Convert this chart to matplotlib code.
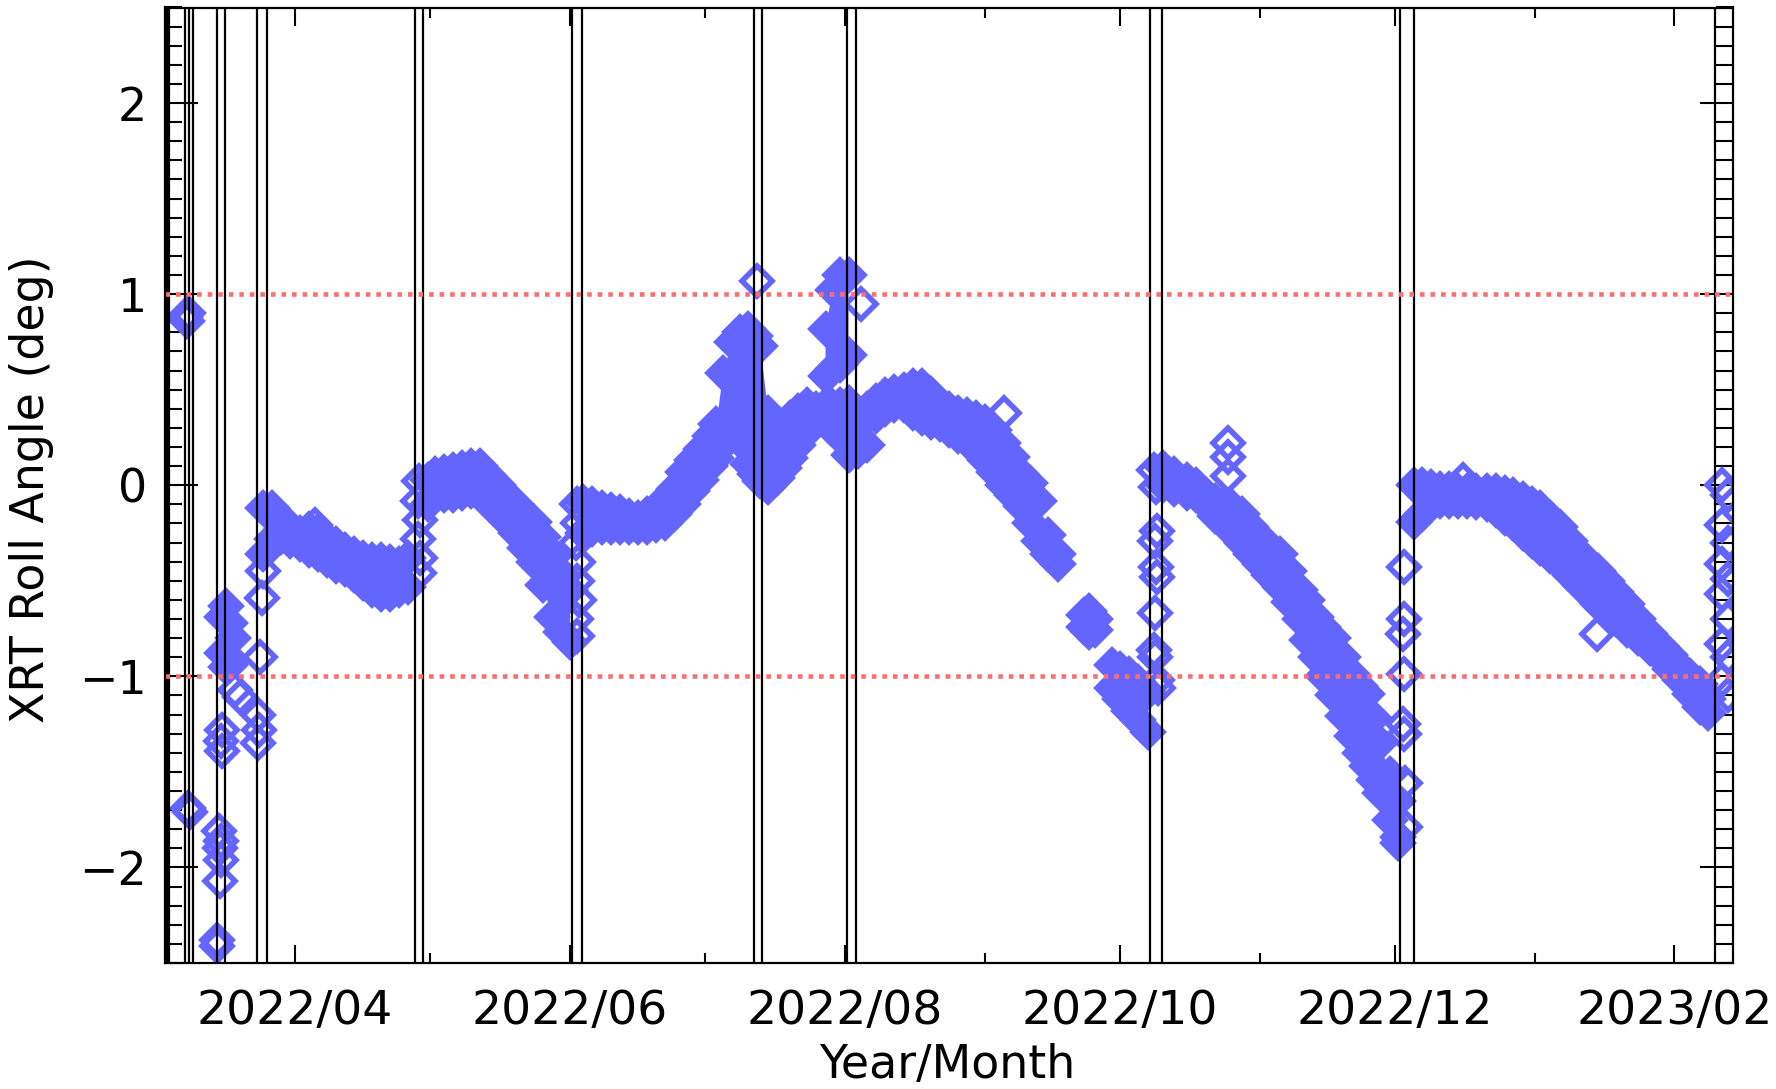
import datetime as dt
import numpy as np
import matplotlib
matplotlib.use("Agg")
import matplotlib.pyplot as plt
import matplotlib.dates as mdates
from matplotlib.ticker import MultipleLocator

NAN = np.nan
BASE = dt.datetime(2022, 3, 1)          # day 0

# ---- dense band of roll-angle points: upper / lower envelope of marker centres (deg)
band_day = [14.8, 15.8, 16.6, 17.3, NAN,
            24, 26, 28, 30, 32, 34, 36, 38, 40, 42, 44, 46, 48, 50, 52, 54, 56, NAN,
            60.5, 62, 64, 66, 68, 70, 72, 74, 76, 78, 80, 82, 84, 86, 88, 90, 92, NAN,
            95, 97, 99, 101, 103, 105, 107, 109, 111, 113, 115, 117, 119, 121, 123, 124.5,
            126, 128, 129.7, 131.6, 133, 134.2, 136, 137.9, 139.5, 140.8, 142.5, 144.5,
            146.5, 148, 150, 152, 154, 156, 158, 160, 162, 164, 166, 168, 170, 172, 174,
            176, 178, 180, 182, 184, 186, 188, 190, 192, 194, 196, 198, 200.3, NAN,
            148.7, 150.3, 152, 153.8, NAN,
            206, 207.2, 208.4, NAN,
            212.2, 214, 216, 218, 220.2, NAN,
            223.6, 226, 229, 231, 233, 235, 237, 239, 241, 243, 245, 247, 249.5, 251.5,
            254, 255.5, 257.5, 259, 261.3, 263.6, 265.5, 267.3, 268.8, 270.3, 271.7,
            273.9, 275.8, NAN,
            279.2, 281, 283, 285, 287, 289, 291, 293, 295.4, 297.5, 299.5, 301.3, 303.5,
            305.5, 307.2, 309.5, 311.6, 313.8, 316.1, 318, 320, 322, 324, 326.4, 329,
            331.6, 334, 336, 338.2, 340.5, 342.7, 344.5]
band_top = [-0.69, -0.63, -0.72, -0.80, NAN,
            -0.12, -0.12, -0.17, -0.22, -0.25, -0.23, -0.24, -0.28, -0.31, -0.34, -0.36,
            -0.38, -0.39, -0.39, -0.40, -0.41, -0.38, NAN,
            0.03, 0.06, 0.07, 0.08, 0.09, 0.10, 0.10, 0.05, 0.00, -0.07, -0.10, -0.15,
            -0.19, -0.27, -0.36, -0.46, -0.55, NAN,
            -0.09, -0.10, -0.12, -0.13, -0.14, -0.16, -0.17, -0.15, -0.12, -0.09, -0.02,
            0.07, 0.13, 0.19, 0.26, 0.32,
            0.59, 0.75, 0.80, 0.82, 0.78, 0.73, 0.38, 0.17, 0.28, 0.35, 0.39, 0.42,
            0.40, 0.40, 0.42, 0.42, 0.43, 0.38, 0.40, 0.44, 0.47, 0.49, 0.50, 0.52, 0.52,
            0.48, 0.42, 0.40, 0.38, 0.37, 0.35, 0.33, 0.29, 0.22, 0.15, 0.06, 0.01,
            -0.08, -0.26, -0.36, NAN,
            0.82, 1.02, 1.10, 1.10, NAN,
            -0.68, -0.66, -0.70, NAN,
            -0.94, -0.96, -0.99, -1.03, -1.08, NAN,
            0.09, 0.06, 0.03, 0.00, -0.05, -0.08, -0.10, -0.12, -0.15, -0.22, -0.29,
            -0.32, -0.36, -0.45, -0.55, -0.60, -0.69, -0.74, -0.80, -0.90, -0.99,
            -1.05, -1.09, -1.22, -1.35, -1.51, -1.65, NAN,
            0.00, 0.00, -0.01, -0.02, -0.02, -0.03, -0.03, -0.03, -0.03, -0.03, -0.04,
            -0.05, -0.07, -0.10, -0.12, -0.17, -0.22, -0.29, -0.36, -0.41, -0.45,
            -0.50, -0.56, -0.62, -0.70, -0.78, -0.84, -0.89, -0.95, -1.00, -1.04, -1.12]
band_bot = [-0.88, -0.95, -0.94, -0.92, NAN,
            -0.36, -0.28, -0.27, -0.29, -0.31, -0.34, -0.36, -0.39, -0.42, -0.44, -0.47,
            -0.51, -0.55, -0.57, -0.57, -0.55, -0.53, NAN,
            -0.10, -0.05, -0.05, -0.05, -0.04, -0.03, -0.04, -0.10, -0.14, -0.19, -0.25,
            -0.33, -0.40, -0.52, -0.69, -0.77, -0.82, NAN,
            -0.25, -0.23, -0.22, -0.22, -0.22, -0.22, -0.22, -0.22, -0.21, -0.20, -0.15,
            -0.10, -0.03, 0.03, 0.10, 0.14,
            0.21, 0.35, 0.23, 0.11, 0.06, 0.02, -0.01, 0.04, 0.09, 0.14, 0.21, 0.28,
            0.35, 0.38, 0.30, 0.25, 0.16, 0.18, 0.21, 0.36, 0.40, 0.42, 0.42, 0.38, 0.35,
            0.33, 0.32, 0.29, 0.26, 0.23, 0.19, 0.13, 0.07, 0.00, -0.05, -0.11, -0.20,
            -0.29, -0.36, -0.41, NAN,
            0.57, 0.61, 0.63, 0.68, NAN,
            -0.74, -0.77, -0.76, NAN,
            -1.06, -1.12, -1.18, -1.23, -1.29, NAN,
            0.00, -0.02, -0.04, -0.05, -0.10, -0.16, -0.19, -0.25, -0.30, -0.36, -0.41,
            -0.47, -0.53, -0.61, -0.70, -0.81, -0.90, -1.00, -1.10, -1.21, -1.31,
            -1.40, -1.47, -1.54, -1.61, -1.75, -1.84, NAN,
            -0.19, -0.15, -0.10, -0.08, -0.08, -0.08, -0.08, -0.09, -0.10, -0.13, -0.17,
            -0.20, -0.25, -0.29, -0.33, -0.37, -0.41, -0.47, -0.52, -0.57, -0.62,
            -0.66, -0.70, -0.76, -0.80, -0.85, -0.90, -0.96, -1.02, -1.09, -1.16, -1.19]

# ---- scattered individual points (open diamonds)
extra_day = [6.5, 7.0, 7.2, 7.3, 7.6, 13.6, 13.8, 14.2, 14.5, 14.3, 14.5, 14.4,
             14.8, 14.6, 14.9, 17.6, 18.8, 22.9, 23.1, 22.8, 23.2, 23.6, 23.8, 35.5,
             58.5, 58.2, 58.8, 58.3, 58.7, 58.5,
             93.5, 93.8, 93.3, 93.7, 93.5, 93.9, 93.4, 93.6,
             133.4, 156.5, 188.2,
             221.5, 222.0, 222.2, 221.8, 222.0, 222.3, 221.8, 221.5, 221.9, 222.2, 222.4,
             238.0, 238.0, 238.0,
             277.0, 277.0, 276.8, 277.0, 276.8, 277.0, 277.2, 277.3, 275.6,
             290.2, 319.9,
             347.5, 349.0, 347.5, 349.0, 347.5, 349.0, 347.5, 349.0, 347.5, 349.0, 347.5, 349.0]
extra_val = [0.88, 0.86, 0.90, -1.69, -1.71, -2.38, -2.41, -1.81, -1.86, -1.90, -1.96, -2.07,
             -1.28, -1.34, -1.39, -1.07, -1.11, -1.20, -1.28, -1.35, -0.90, -0.59, -0.45, -0.21,
             0.02, -0.08, -0.18, -0.28, -0.38, -0.46,
             -0.10, -0.20, -0.30, -0.40, -0.50, -0.60, -0.70, -0.79,
             1.07, 0.95, 0.38,
             0.08, -0.01, -0.24, -0.29, -0.43, -0.48, -0.67, -0.86, -0.90, -1.02, -1.06,
             0.22, 0.15, 0.05,
             -0.43, -0.70, -0.78, -0.99, -1.25, -1.30, -1.56, -1.79, -1.87,
             0.03, -0.78,
             0.00, -0.05, -0.21, -0.30, -0.41, -0.49, -0.57, -0.70, -0.83, -0.90, -1.02, -1.10]

# ---- vertical event lines (days since 2022-03-01)
event_day = [2.55, 3.05, 6.6, 7.55, 8.3, 13.63, 15.47, 22.64, 24.72, 57.62, 59.46,
             92.39, 94.61, 132.83, 134.54, 153.4, 155.4, 220.68, 223.28, 276.15,
             279.32, 346.03]

limit_lines = [1.0, -1.0]
x_range = [2.16, 349.96]
y_range = [-2.5, 2.5]

BLUE = "#6464ff"
RED = "#ff6e6e"

plt.rcParams["font.family"] = ["DejaVu Sans"]
fig = plt.figure(figsize=(17.76, 10.89), dpi=100)
ax = fig.add_axes([165 / 1776, 126 / 1089, 1567.7 / 1776, 955.5 / 1089])

t0 = mdates.date2num(BASE)
bx = t0 + np.array(band_day, dtype=float)
bt = np.array(band_top, dtype=float)
bb = np.array(band_bot, dtype=float)

ms, mew = 15.0, 4.0
ax.fill_between(bx, bt, bb, color=BLUE, lw=0, zorder=2)
for yy in (bt, bb):
    ax.plot(bx, yy, ls="none", marker="D", ms=ms, mew=mew, mfc=BLUE, mec=BLUE, zorder=2)
ax.plot(t0 + np.array(extra_day), extra_val, ls="none", marker="D", ms=ms, mew=mew,
        mfc="none", mec=BLUE, zorder=2)

for d in event_day:
    ax.axvline(t0 + d, color="black", lw=1.6, zorder=3)
for v in limit_lines:
    ax.axhline(v, color=RED, lw=3.3, ls=(0, (1, 1.3)), zorder=4)

ax.set_xlim(t0 + x_range[0], t0 + x_range[1])
ax.set_ylim(*y_range)

ax.xaxis.set_major_locator(mdates.MonthLocator(bymonth=[2, 4, 6, 8, 10, 12]))
ax.xaxis.set_minor_locator(mdates.MonthLocator(bymonth=[1, 3, 5, 7, 9, 11]))
ax.xaxis.set_major_formatter(mdates.DateFormatter("%Y/%m"))
ax.yaxis.set_major_locator(MultipleLocator(1))
ax.yaxis.set_minor_locator(MultipleLocator(0.1))

ax.tick_params(axis="x", which="major", direction="in", length=13, width=1.5,
               top=True, bottom=True, labelsize=34, pad=19, colors="black")
ax.tick_params(axis="x", which="minor", direction="in", length=7, width=1.5,
               top=True, bottom=True)
ax.tick_params(axis="y", which="major", direction="in", length=24, width=1.5,
               left=True, right=True, labelsize=33, pad=13)
ax.tick_params(axis="y", which="minor", direction="in", length=12, width=1.5,
               left=True, right=True)
for s in ax.spines.values():
    s.set_linewidth(1.6)
    s.set_zorder(5)

fig.text(32 / 1776, 1 - 489 / 1089, "XRT Roll Angle (deg)", rotation=90,
         ha="center", va="center", fontsize=33)
fig.text(947 / 1776, 1 - 1065 / 1089, "Year/Month", ha="center", va="center",
         fontsize=33)

fig.savefig("out.png", dpi=100)
